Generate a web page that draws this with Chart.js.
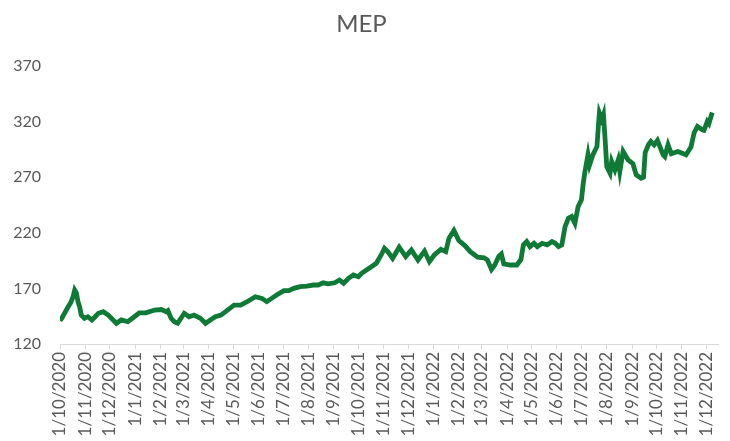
<!DOCTYPE html>
<html>
<head>
<meta charset="utf-8">
<script src="https://cdn.jsdelivr.net/npm/chart.js@4"></script>
<style>
  html, body { margin: 0; padding: 0; background: #fff; }
  #wrap { width: 730px; height: 441px; }
</style>
</head>
<body>
<div id="wrap"><canvas id="myChart"></canvas></div>
<script>
// MEP quote
var dates = [
  "2020-10-01","2020-10-03","2020-10-11","2020-10-14","2020-10-17","2020-10-19","2020-10-21","2020-10-23",
  "2020-10-25","2020-10-27","2020-10-31","2020-11-04","2020-11-09","2020-11-13","2020-11-17","2020-11-23",
  "2020-11-29","2020-12-05","2020-12-09","2020-12-15","2020-12-23","2020-12-31","2021-01-06","2021-01-14",
  "2021-01-25","2021-02-02","2021-02-08","2021-02-10","2021-02-14","2021-02-18","2021-02-22","2021-03-02",
  "2021-03-08","2021-03-14","2021-03-22","2021-03-28","2021-04-03","2021-04-09","2021-04-16","2021-04-24",
  "2021-05-02","2021-05-10","2021-05-18","2021-05-28","2021-06-05","2021-06-11","2021-06-17","2021-06-23",
  "2021-07-02","2021-07-08","2021-07-14","2021-07-22","2021-07-30","2021-08-07","2021-08-13","2021-08-19",
  "2021-08-25","2021-09-02","2021-09-08","2021-09-13","2021-09-19","2021-09-25","2021-10-01","2021-10-05",
  "2021-10-11","2021-10-17","2021-10-23","2021-10-29","2021-11-02","2021-11-06","2021-11-12","2021-11-20",
  "2021-11-28","2021-12-05","2021-12-13","2021-12-21","2021-12-27","2022-01-02","2022-01-10","2022-01-16",
  "2022-01-20","2022-01-26","2022-02-01","2022-02-09","2022-02-15","2022-02-24","2022-03-04","2022-03-08",
  "2022-03-13","2022-03-17","2022-03-22","2022-03-25","2022-03-28","2022-04-05","2022-04-13","2022-04-18",
  "2022-04-21","2022-04-25","2022-04-29","2022-05-04","2022-05-08","2022-05-14","2022-05-20","2022-05-26",
  "2022-05-30","2022-06-03","2022-06-07","2022-06-11","2022-06-15","2022-06-19","2022-06-23","2022-06-27",
  "2022-07-01","2022-07-03","2022-07-05","2022-07-09","2022-07-11","2022-07-15","2022-07-20","2022-07-22",
  "2022-07-23","2022-07-26","2022-07-28","2022-07-30","2022-08-01","2022-08-05","2022-08-07","2022-08-11",
  "2022-08-15","2022-08-17","2022-08-21","2022-08-27","2022-09-02","2022-09-06","2022-09-12","2022-09-15",
  "2022-09-17","2022-09-21","2022-09-24","2022-09-28","2022-10-02","2022-10-09","2022-10-11","2022-10-15",
  "2022-10-19","2022-10-27","2022-11-06","2022-11-12","2022-11-16","2022-11-20","2022-11-26","2022-11-28",
  "2022-12-02","2022-12-04","2022-12-08"
];

var mep = [
  141,143,153.5,157,162.5,168.5,166,158,
  153.5,146,143,144.5,141.6,144.5,147.6,149,
  146,141.6,138.6,141.6,140,144.5,148,148,
  150.5,151,149,150,143,140,138.6,147.6,
  144.5,146,143,138.6,141.6,144.5,146,150.5,
  155,155,158,162.5,161,158,161,164,
  168,168,170,171.5,172,173,173,175,
  174,175,177.5,174.6,179,182,180.5,183.5,
  186.5,189.5,192.6,200,206,203,197,207,
  198.5,204.5,195.5,203.5,194,200,205,203,
  215,222,213,208,203,198,197.5,195.5,
  187,191,199,201,192,191,191,196,
  209,212,207.5,210.5,207.5,210.5,209,212,
  210.5,207.5,209,225.5,233,234.5,228.5,243.5,
  249.5,263,273.5,290,281,290,297.5,318.5,
  327.5,321.5,326,303.5,279.5,273.5,284,276.5,
  285.5,275,293,285.5,282,272,269,270,
  292,299,302,299,303,290,288.5,299,
  291,293,290,297,310,315.5,312.5,312,
  320,318,328
];

var tickMonths = [
  "2020-10-01","2020-11-01","2020-12-01","2021-01-01","2021-02-01","2021-03-01","2021-04-01",
  "2021-05-01","2021-06-01","2021-07-01","2021-08-01","2021-09-01","2021-10-01","2021-11-01",
  "2021-12-01","2022-01-01","2022-02-01","2022-03-01","2022-04-01","2022-05-01","2022-06-01",
  "2022-07-01","2022-08-01","2022-09-01","2022-10-01","2022-11-01","2022-12-01"
];

var yTicks = [120, 170, 220, 270, 320, 370];

var start = Date.UTC(2020, 9, 1);
function dayIndex(s) {
  var p = s.split("-");
  return Math.round((Date.UTC(+p[0], +p[1] - 1, +p[2]) - start) / 86400000);
}
function dayLabel(v) {
  var d = new Date(start + v * 86400000);
  return d.getUTCDate() + "/" + (d.getUTCMonth() + 1) + "/" + d.getUTCFullYear();
}

var points = [];
for (var i = 0; i < dates.length; i++) {
  points.push({ x: dayIndex(dates[i]), y: mep[i] });
}

var font = "Lato, 'Open Sans', sans-serif";
var grey = "#595959";

var ctx = document.getElementById("myChart");
var myChart = new Chart(ctx, {
  type: 'line',
  data: {
    datasets: [{
      label: "MEP",
      data: points,
      borderColor: "#0f7a36",
      borderWidth: 4.8,
      pointRadius: 0,
      tension: 0,
      fill: false
    }]
  },
  options: {
    responsive: true,
    maintainAspectRatio: false,
    animation: false,
    layout: { padding: { left: 0, right: 7, top: 0, bottom: 0 } },
    plugins: {
      legend: { display: false },
      tooltip: { enabled: false },
      title: {
        display: true,
        text: "MEP",
        color: grey,
        font: { family: font, size: 24, weight: 'normal' },
        padding: { top: 10, bottom: 27 }
      }
    },
    scales: {
      x: {
        type: 'linear',
        min: 0,
        max: 806,
        grid: { display: true, drawOnChartArea: false, drawTicks: true, tickLength: 5, color: "#d9d9d9" },
        border: { display: true, color: "#d9d9d9", width: 1 },
        afterBuildTicks: function(axis) {
          axis.ticks = tickMonths.map(function(m) { return { value: dayIndex(m) }; });
        },
        afterFit: function(axis) { axis.height = 97; },
        ticks: {
          autoSkip: false,
          minRotation: 90,
          maxRotation: 90,
          padding: 3,
          color: grey,
          font: { family: font, size: 17 },
          callback: function(v) { return dayLabel(v); }
        }
      },
      y: {
        min: 120,
        max: 370,
        grid: { display: false },
        border: { display: false },
        afterBuildTicks: function(axis) {
          axis.ticks = yTicks.map(function(v) { return { value: v }; });
        },
        afterFit: function(axis) { axis.width = 60; },
        ticks: {
          padding: 11,
          color: grey,
          font: { family: font, size: 16 }
        }
      }
    }
  }
});
</script>
</body>
</html>
